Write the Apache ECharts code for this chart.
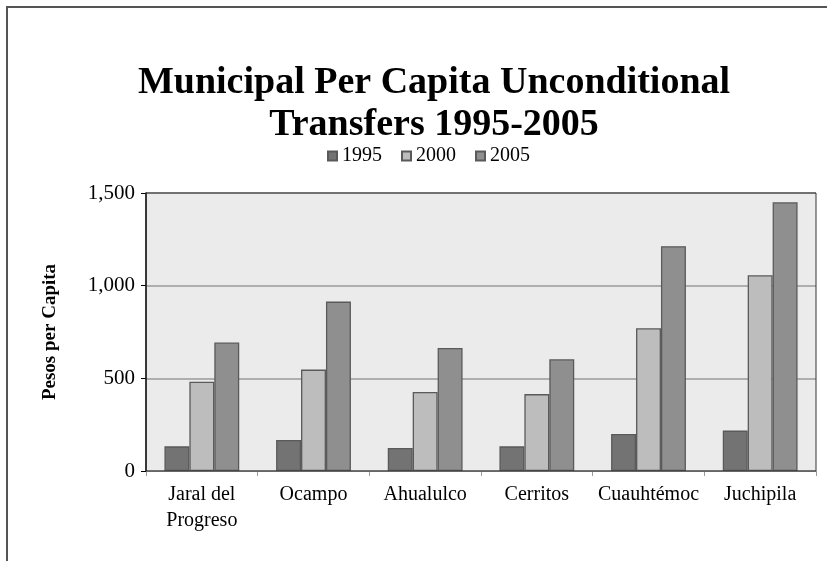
<!DOCTYPE html>
<html><head><meta charset="utf-8">
<script src="https://cdn.jsdelivr.net/npm/echarts@6/dist/echarts.min.js"></script>
<style>html,body{margin:0;padding:0;background:#fff}#c{width:827px;height:561px}</style>
</head><body><div id="c"></div>
<script>
const categories = ['Jaral del\nProgreso', 'Ocampo', 'Ahualulco', 'Cerritos', 'Cuauhtémoc', 'Juchipila'];
const seriesNames = ['1995', '2000', '2005'];
const v1995 = [133, 167, 124, 133, 200, 218];
const v2000 = [482, 547, 426, 415, 770, 1056];
const v2005 = [693, 914, 664, 603, 1213, 1450];
const yTicks = [0, 500, 1000, 1500];

const F = '"Liberation Serif","Times New Roman",serif';
const colors = ['#737373', '#bdbdbd', '#8f8f8f'];
const chart = echarts.init(document.getElementById('c'), null, {renderer: 'canvas'});
const mk = (name, data, i) => ({
  name, type: 'bar', data, barGap: '0%', barCategoryGap: '33%',
  itemStyle: {color: colors[i], borderColor: '#5a5a5a', borderWidth: 1.3},
  animation: false
});
chart.setOption({
  animation: false,
  title: {
    text: 'Municipal Per Capita Unconditional\nTransfers 1995-2005',
    left: 429, top: 57, textAlign: 'center',
    textStyle: {fontFamily: F, fontWeight: 'bold', fontSize: 38, lineHeight: 42, color: '#000'}
  },
  legend: {
    data: seriesNames, top: 141, left: 322,
    itemWidth: 9, itemHeight: 9, itemGap: 19,
    textStyle: {fontFamily: F, fontSize: 20, color: '#000'},
    icon: 'rect'
  },
  graphic: [
    {type: 'rect', shape: {x: 7, y: 7, width: 900, height: 700}, style: {fill: 'none', stroke: '#555', lineWidth: 2}, silent: true},
    {type: 'rect', shape: {x: 146, y: 193, width: 670, height: 278}, style: {fill: 'none', stroke: '#333', lineWidth: 1}, silent: true, z: 100}
  ],
  grid: {left: 146, right: 11, top: 193, bottom: 90, backgroundColor: '#ebebeb', show: true, borderWidth: 0},
  xAxis: {
    type: 'category', data: categories,
    axisLine: {lineStyle: {color: '#9a9a9a', width: 1}},
    axisTick: {show: true, length: 5, lineStyle: {color: '#9a9a9a'}},
    axisLabel: {fontFamily: F, fontSize: 20, color: '#000', margin: 11, lineHeight: 26,
      interval: 0, hideOverlap: false}
  },
  yAxis: {
    type: 'value', min: yTicks[0], max: yTicks[yTicks.length - 1], interval: 500,
    name: 'Pesos per Capita', nameLocation: 'middle', nameGap: 86,
    nameTextStyle: {fontFamily: F, fontSize: 19, fontWeight: 'bold', color: '#000'},
    axisLine: {show: true, lineStyle: {color: '#000', width: 1.5}},
    axisTick: {show: true, length: 5, lineStyle: {color: '#000'}},
    axisLabel: {fontFamily: F, fontSize: 21, color: '#000', margin: 11,
      formatter: v => v.toLocaleString('en-US')},
    splitLine: {lineStyle: {color: '#9a9a9a', width: 1.5}}
  },
  series: [mk('1995', v1995, 0), mk('2000', v2000, 1), mk('2005', v2005, 2)]
});
</script></body></html>
